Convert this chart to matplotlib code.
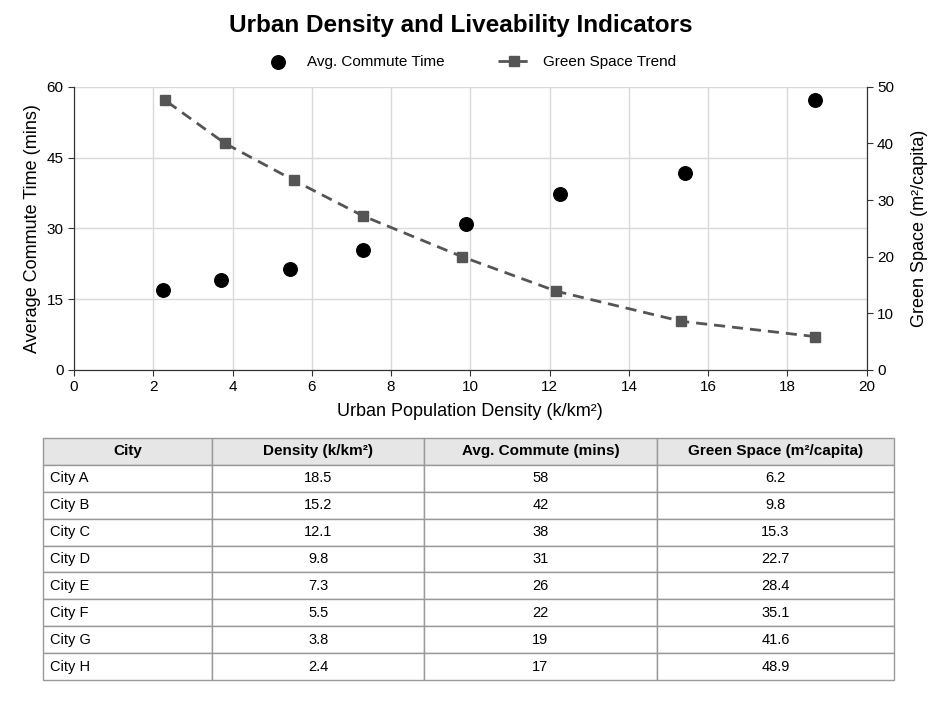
import matplotlib.pyplot as plt

plt.rcParams['font.family'] = ['Liberation Sans', 'DejaVu Sans']

cities = ['City A', 'City B', 'City C', 'City D', 'City E', 'City F', 'City G', 'City H']
density = [18.5, 15.2, 12.1, 9.8, 7.3, 5.5, 3.8, 2.4]
commute = [58, 42, 38, 31, 26, 22, 19, 17]
green = [6.2, 9.8, 15.3, 22.7, 28.4, 35.1, 41.6, 48.9]

# values as they sit in the chart itself
commute_x = [18.69, 15.42, 12.26, 9.89, 7.30, 5.44, 3.70, 2.25]
commute_plot = [57.2, 41.8, 37.3, 30.9, 25.4, 21.3, 19.1, 16.9]
trend_x = [18.69, 15.32, 12.17, 9.79, 7.29, 5.54, 3.81, 2.30]
trend_plot = [5.9, 8.6, 13.9, 20.0, 27.2, 33.5, 40.0, 47.6]

col_labels = ['City', 'Density (k/km²)', 'Avg. Commute (mins)', 'Green Space (m²/capita)']

fig = plt.figure(figsize=(9.39, 7.05), dpi=100)
ax = fig.add_axes([0.0788, 0.4752, 0.8442, 0.4018])
ax2 = ax.twinx()

ax.scatter(commute_x, commute_plot, s=95, color='black', zorder=3, label='Avg. Commute Time')
ax2.plot(trend_x, trend_plot, color='#555555', linestyle='--', linewidth=2,
         marker='s', markersize=7, dashes=(4, 2.5), label='Green Space Trend', zorder=3)

ax.set_xlim(0, 20)
ax.set_ylim(0, 60)
ax2.set_ylim(0, 50)
ax.set_xticks(range(0, 21, 2))
ax.set_yticks([0, 15, 30, 45, 60])
ax2.set_yticks(range(0, 51, 10))
ax.grid(True, color='#d9d9d9', linewidth=1)
ax.set_axisbelow(True)

for a in (ax, ax2):
    a.spines['top'].set_visible(False)
    a.tick_params(labelsize=11, color='#333333', length=4)
    for s in ('left', 'bottom', 'right'):
        a.spines[s].set_color('#333333')

ax.set_xlabel('Urban Population Density (k/km²)', fontsize=13, labelpad=6)
ax.set_ylabel('Average Commute Time (mins)', fontsize=13, labelpad=4)
ax2.set_ylabel('Green Space (m²/capita)', fontsize=13, labelpad=12)

fig.suptitle('Urban Density and Liveability Indicators', fontsize=17.5, fontweight='bold',
             x=0.491, y=0.98)

h1, l1 = ax.get_legend_handles_labels()
h2, l2 = ax2.get_legend_handles_labels()
fig.legend(h1 + h2, l1 + l2, loc='center', bbox_to_anchor=(0.5, 0.912), ncol=2,
           frameon=False, fontsize=11, columnspacing=3.5, handlelength=2.0, handletextpad=0.9)

# table
rows = [[c, f'{d}', f'{m}', f'{g}'] for c, d, m, g in zip(cities, density, commute, green)]
tax = fig.add_axes([0.0461, 0.0355, 0.906, 0.3433])
tax.axis('off')
tbl = tax.table(cellText=rows, colLabels=col_labels, bbox=[0, 0, 1, 1],
                colWidths=[0.1987, 0.2489, 0.2735, 0.2789], cellLoc='center')
tbl.auto_set_font_size(False)
tbl.set_fontsize(10.5)
for (r, c), cell in tbl.get_celld().items():
    cell.set_edgecolor('#999999')
    cell.set_linewidth(1)
    if r == 0:
        cell.set_facecolor('#e6e6e6')
        cell.get_text().set_fontweight('bold')
        cell.get_text().set_fontsize(11)
    elif c == 0:
        cell.get_text().set_ha('left')
        cell.PAD = 0.04

fig.savefig('out.png', dpi=100)
